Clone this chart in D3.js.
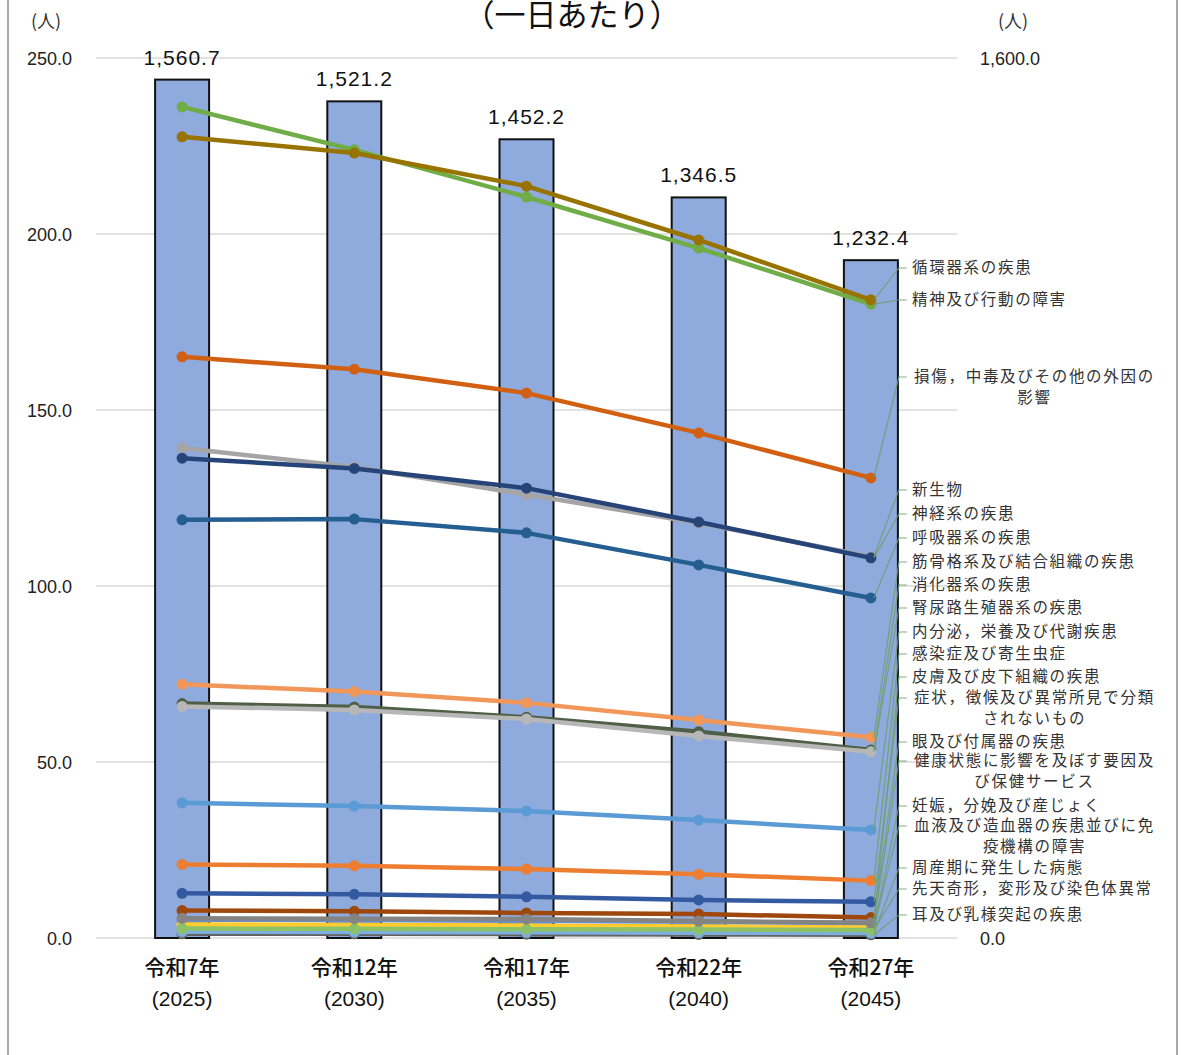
<!DOCTYPE html>
<html><head><meta charset="utf-8">
<script src="https://cdn.jsdelivr.net/npm/d3@7/dist/d3.min.js"></script>
<style>
html,body{margin:0;padding:0;background:#fff;}
svg{display:block;}
</style></head>
<body>
<svg id="chart" width="1182" height="1055"></svg>
<script>
// ---------- DATA ----------
const categories = ["令和7年", "令和12年", "令和17年", "令和22年", "令和27年"];
const years = ["(2025)", "(2030)", "(2035)", "(2040)", "(2045)"];
const totals = [1560.7, 1521.2, 1452.2, 1346.5, 1232.4];
const leftTicks = [0, 50, 100, 150, 200, 250];
const rightTicks = [0, 1600];

const sInfection   = [20.9, 20.5, 19.6, 18.1, 16.3];
const sNeoplasm    = [139.2, 133.8, 126.0, 117.9, 108.3];
const sBlood       = [3.8, 3.7, 3.5, 3.3, 3.0];
const sEndocrine   = [38.4, 37.5, 36.1, 33.5, 30.7];
const sMental      = [236.1, 223.9, 210.5, 196.0, 180.1];
const sNervous     = [136.3, 133.4, 127.8, 118.2, 108.0];
const sEye         = [7.8, 7.6, 7.1, 6.8, 5.8];
const sEar         = [1.2, 1.2, 1.1, 1.0, 0.9];
const sCirculatory = [227.6, 223.0, 213.6, 198.3, 181.3];
const sRespiratory = [118.8, 119.0, 115.1, 106.0, 96.6];
const sDigestive   = [66.6, 65.6, 62.7, 58.6, 53.4];
const sSkin        = [5.2, 5.1, 4.9, 4.6, 4.2];
const sMusculo     = [72.1, 70.0, 66.8, 61.9, 57.0];
const sGenito      = [65.8, 64.8, 62.2, 57.4, 52.9];
const sPregnancy   = [3.6, 3.5, 3.3, 3.1, 2.9];
const sPerinatal   = [1.8, 1.7, 1.6, 1.5, 1.4];
const sCongenital  = [2.7, 2.6, 2.5, 2.4, 2.3];
const sSymptoms    = [12.7, 12.4, 11.7, 10.8, 10.3];
const sInjury      = [165.1, 161.6, 154.8, 143.5, 130.7];
const sHealth      = [5.6, 5.5, 5.4, 4.8, 4.3];

const seriesNames = [
  "感染症及び寄生虫症", "新生物", "血液及び造血器の疾患並びに免疫機構の障害", "内分泌，栄養及び代謝疾患",
  "精神及び行動の障害", "神経系の疾患", "眼及び付属器の疾患", "耳及び乳様突起の疾患",
  "循環器系の疾患", "呼吸器系の疾患", "消化器系の疾患", "皮膚及び皮下組織の疾患",
  "筋骨格系及び結合組織の疾患", "腎尿路生殖器系の疾患", "妊娠，分娩及び産じょく", "周産期に発生した病態",
  "先天奇形，変形及び染色体異常", "症状，徴候及び異常所見で分類されないもの", "損傷，中毒及びその他の外因の影響",
  "健康状態に影響を及ぼす要因及び保健サービス"
];
const seriesValues = [
  sInfection, sNeoplasm, sBlood, sEndocrine, sMental, sNervous, sEye, sEar,
  sCirculatory, sRespiratory, sDigestive, sSkin, sMusculo, sGenito, sPregnancy, sPerinatal,
  sCongenital, sSymptoms, sInjury, sHealth
];
const seriesColors = [
  "#ED7D31", "#A5A5A5", "#FFC000", "#5B9BD5", "#70AD47", "#264478", "#9E480E", "#636363",
  "#997300", "#255E91", "#4F5F45", "#698ED0", "#F1975A", "#B7B7B7", "#FFCD33", "#7CAFDD",
  "#8CC168", "#335AA1", "#D26012", "#848484"
];

// label lines (text), in the order shown on the right
const labelSeries = [
  "循環器系の疾患", "精神及び行動の障害", "損傷，中毒及びその他の外因の影響", "新生物", "神経系の疾患",
  "呼吸器系の疾患", "筋骨格系及び結合組織の疾患", "消化器系の疾患", "腎尿路生殖器系の疾患",
  "内分泌，栄養及び代謝疾患", "感染症及び寄生虫症", "皮膚及び皮下組織の疾患",
  "症状，徴候及び異常所見で分類されないもの", "眼及び付属器の疾患",
  "健康状態に影響を及ぼす要因及び保健サービス", "妊娠，分娩及び産じょく",
  "血液及び造血器の疾患並びに免疫機構の障害", "周産期に発生した病態",
  "先天奇形，変形及び染色体異常", "耳及び乳様突起の疾患"
];
const labelLines = [
  ["循環器系の疾患"], ["精神及び行動の障害"], ["損傷，中毒及びその他の外因の", "影響"], ["新生物"], ["神経系の疾患"],
  ["呼吸器系の疾患"], ["筋骨格系及び結合組織の疾患"], ["消化器系の疾患"], ["腎尿路生殖器系の疾患"],
  ["内分泌，栄養及び代謝疾患"], ["感染症及び寄生虫症"], ["皮膚及び皮下組織の疾患"],
  ["症状，徴候及び異常所見で分類", "されないもの"], ["眼及び付属器の疾患"],
  ["健康状態に影響を及ぼす要因及", "び保健サービス"], ["妊娠，分娩及び産じょく"],
  ["血液及び造血器の疾患並びに免", "疫機構の障害"], ["周産期に発生した病態"],
  ["先天奇形，変形及び染色体異常"], ["耳及び乳様突起の疾患"]
];

// ---------- LAYOUT ----------
const plotLeft = 96, plotRight = 957, plotTop = 58, plotBottom = 938;
const labelY = [268, 300, 377, 490, 514, 538, 562, 585, 608, 632, 654, 677, 698, 742, 761, 806, 826, 868, 889, 915];
const labelX = 912, labelBoxW = 245, lineGap = 21;

const svg = d3.select("#chart");
const x = d3.scaleBand().domain(categories).range([plotLeft, plotRight]).paddingInner(0).paddingOuter(0);
const cx = c => x(c) + x.bandwidth() / 2;
const yL = d3.scaleLinear().domain([0, 250]).range([plotBottom, plotTop]);
const yR = d3.scaleLinear().domain([0, 1600]).range([plotBottom, plotTop]);

const cjk = "'Noto Sans CJK JP', 'Noto Sans', sans-serif";
const narrow = "'Liberation Sans Narrow', 'Liberation Sans', Arial, sans-serif";

// frame
svg.append("rect").attr("x", 8).attr("y", -5).attr("width", 1169).attr("height", 1070)
  .attr("fill", "none").attr("stroke", "#8c8c8c").attr("stroke-width", 1.5);

// gridlines
svg.append("g").selectAll("line").data(leftTicks).join("line")
  .attr("x1", plotLeft).attr("x2", plotRight)
  .attr("y1", d => yL(d)).attr("y2", d => yL(d))
  .attr("stroke", "#d9d9d9").attr("stroke-width", 1.5);

// left axis
const axL = d3.axisLeft(yL).tickValues(leftTicks).tickFormat(d3.format(".1f")).tickSize(0).tickPadding(0);
const gL = svg.append("g").attr("transform", "translate(72,0)").call(axL);
gL.select(".domain").remove();
gL.selectAll("text").attr("font-family", narrow).attr("font-size", 18).attr("fill", "#222").attr("dy", "0.35em");

// right axis
const axR = d3.axisRight(yR).tickValues(rightTicks).tickFormat(d3.format(",.1f")).tickSize(0).tickPadding(0);
const gR = svg.append("g").attr("transform", "translate(980,0)").call(axR);
gR.select(".domain").remove();
gR.selectAll("text").attr("font-family", narrow).attr("font-size", 18).attr("fill", "#222").attr("dy", "0.35em");

// units & title
svg.append("text").attr("x", 46).attr("y", 28).attr("text-anchor", "middle")
  .attr("font-family", cjk).attr("font-size", 18).attr("fill", "#333").text("(人)");
svg.append("text").attr("x", 1013).attr("y", 28).attr("text-anchor", "middle")
  .attr("font-family", cjk).attr("font-size", 18).attr("fill", "#333").text("(人)");
svg.append("text").attr("x", 572).attr("y", 26).attr("text-anchor", "middle")
  .attr("font-family", cjk).attr("font-size", 31).attr("fill", "#111").text("（一日あたり）");

// bars
const barW = 54;
svg.append("g").selectAll("rect").data(categories).join("rect")
  .attr("x", c => cx(c) - barW / 2)
  .attr("y", (c, i) => yR(totals[i]))
  .attr("width", barW)
  .attr("height", (c, i) => yR(0) - yR(totals[i]))
  .attr("fill", "#8FAADC").attr("stroke", "#111").attr("stroke-width", 2);

// bar labels
svg.append("g").selectAll("text").data(categories).join("text")
  .attr("x", c => cx(c)).attr("y", (c, i) => yR(totals[i]) - 15)
  .attr("text-anchor", "middle").attr("font-family", "'Liberation Sans', Arial, sans-serif")
  .attr("font-size", 21).attr("letter-spacing", 1).attr("fill", "#111")
  .text((c, i) => d3.format(",.1f")(totals[i]));

// lines
const line = d3.line().x((d, i) => cx(categories[i])).y(d => yL(d));
const gLines = svg.append("g");
seriesValues.forEach((vals, si) => {
  const g = gLines.append("g");
  g.append("path").datum(vals).attr("d", line).attr("fill", "none")
    .attr("stroke", seriesColors[si]).attr("stroke-width", 4.5).attr("stroke-linejoin", "round");
  g.selectAll("circle").data(vals).join("circle")
    .attr("cx", (d, i) => cx(categories[i])).attr("cy", d => yL(d)).attr("r", 5.5)
    .attr("fill", seriesColors[si]);
});

// leader lines & labels
const lastX = cx(categories[categories.length - 1]);
const gLab = svg.append("g");
labelSeries.forEach((name, li) => {
  const si = seriesNames.indexOf(name);
  const v = seriesValues[si][seriesValues[si].length - 1];
  const ly = labelY[li];
  gLab.append("polyline")
    .attr("points", `${lastX + 3},${yL(v)} ${lastX + 28},${ly} ${lastX + 36},${ly}`)
    .attr("fill", "none").attr("stroke", "#6f9d6f").attr("stroke-width", 1.2).attr("opacity", 0.85);
  const lines = labelLines[li];
  lines.forEach((t, k) => {
    const multi = lines.length > 1;
    gLab.append("text")
      .attr("x", multi ? labelX + labelBoxW / 2 : labelX)
      .attr("y", ly + k * lineGap)
      .attr("dy", "0.35em")
      .attr("text-anchor", multi ? "middle" : "start")
      .attr("font-family", cjk).attr("font-size", 15.5).attr("letter-spacing", 1.7)
      .attr("fill", "#333").text(t);
  });
});

// x labels
const gX = svg.append("g");
categories.forEach((c, i) => {
  gX.append("text").attr("x", cx(c)).attr("y", 975).attr("text-anchor", "middle")
    .attr("font-family", cjk).attr("font-size", 21).attr("font-weight", 500).attr("fill", "#111").text(c);
  gX.append("text").attr("x", cx(c)).attr("y", 1006).attr("text-anchor", "middle")
    .attr("font-family", narrow).attr("font-size", 21).attr("fill", "#111").text(years[i]);
});
</script>
</body></html>
